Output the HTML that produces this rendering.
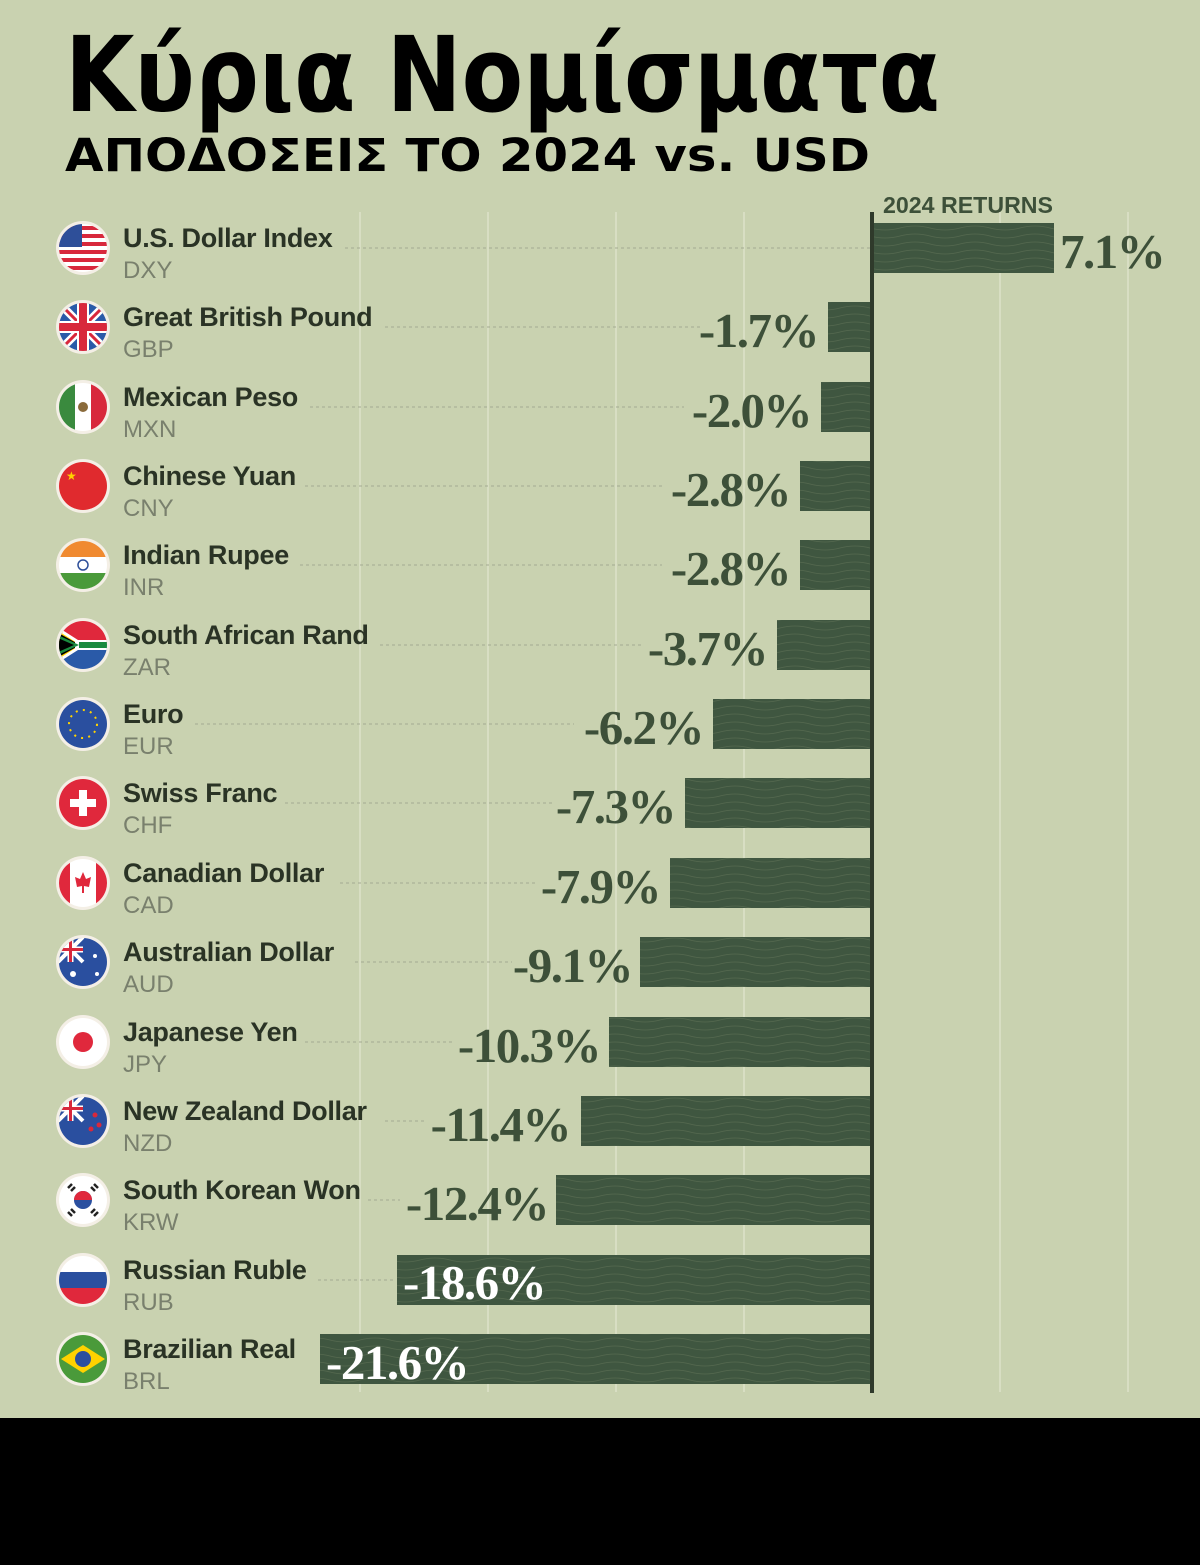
<!DOCTYPE html>
<html><head><meta charset="utf-8"><style>
body{margin:0;padding:0;background:#000}
svg{display:block}
.nm{font-family:"Liberation Sans Narrow","Liberation Sans",sans-serif;font-weight:bold;font-size:27px;fill:#2a3325;letter-spacing:-0.3px}
.cd{font-family:"Liberation Sans Narrow","Liberation Sans",sans-serif;font-size:24px;fill:#79806d}
.v{font-family:"Liberation Serif",serif;font-weight:bold;font-size:49px;fill:#3d5039;letter-spacing:-1.5px}
.vw{fill:#ffffff}
.dl{stroke:#a3ab92;stroke-width:1;stroke-dasharray:3 3}
.g{stroke:#dde1c9;stroke-width:1.5}
.bar{fill:#3f5640}
</style></head><body>
<svg width="1200" height="1565" viewBox="0 0 1200 1565" xmlns="http://www.w3.org/2000/svg">
<defs>
<pattern id="wv" width="60" height="8" patternUnits="userSpaceOnUse">
<path d="M0 4 Q15 0 30 4 T60 4" fill="none" stroke="#55694f" stroke-width="0.8"/>
</pattern>
<clipPath id="cc"><circle cx="0" cy="0" r="24"/></clipPath>
</defs>
<rect width="1200" height="1418" fill="#c9d2b0"/>
<rect y="1418" width="1200" height="147" fill="#000"/>
<text x="65" y="111" font-family="DejaVu Sans Condensed,DejaVu Sans,sans-serif" font-weight="bold" font-size="104" textLength="875" lengthAdjust="spacingAndGlyphs" fill="#000">Κύρια Νομίσματα</text>
<text x="65" y="171" font-family="DejaVu Sans Condensed,DejaVu Sans,sans-serif" font-weight="bold" font-size="45" textLength="805" lengthAdjust="spacingAndGlyphs" fill="#000">ΑΠΟΔΟΣΕΙΣ ΤΟ 2024 vs. USD</text>
<text x="883" y="213" font-family="Liberation Sans Narrow,Liberation Sans,sans-serif" font-weight="bold" font-size="23" fill="#3d5039" textLength="170" lengthAdjust="spacingAndGlyphs">2024 RETURNS</text>
<g>
<line class="g" x1="360" y1="212" x2="360" y2="1392"/><line class="g" x1="488" y1="212" x2="488" y2="1392"/>
<line class="g" x1="616" y1="212" x2="616" y2="1392"/><line class="g" x1="744" y1="212" x2="744" y2="1392"/>
<line class="g" x1="1000" y1="212" x2="1000" y2="1392"/><line class="g" x1="1128" y1="212" x2="1128" y2="1392"/>
</g>
<line class="dl" x1="345" y1="248" x2="870" y2="248"/>
<line class="dl" x1="385" y1="327" x2="700" y2="327"/>
<line class="dl" x1="310" y1="407" x2="684" y2="407"/>
<line class="dl" x1="305" y1="486" x2="662" y2="486"/>
<line class="dl" x1="300" y1="565" x2="662" y2="565"/>
<line class="dl" x1="380" y1="645" x2="644" y2="645"/>
<line class="dl" x1="195" y1="724" x2="574" y2="724"/>
<line class="dl" x1="285" y1="803" x2="555" y2="803"/>
<line class="dl" x1="340" y1="883" x2="537" y2="883"/>
<line class="dl" x1="355" y1="962" x2="512" y2="962"/>
<line class="dl" x1="305" y1="1042" x2="454" y2="1042"/>
<line class="dl" x1="385" y1="1121" x2="425" y2="1121"/>
<line class="dl" x1="368" y1="1200" x2="400" y2="1200"/>
<line class="dl" x1="318" y1="1280" x2="396" y2="1280"/>
<g>
<rect class="bar" x="874" y="223" width="180" height="50"/><rect fill="url(#wv)" x="874" y="223" width="180" height="50"/>
<rect class="bar" x="828" y="302" width="44" height="50"/><rect fill="url(#wv)" x="828" y="302" width="44" height="50"/>
<rect class="bar" x="821" y="382" width="51" height="50"/><rect fill="url(#wv)" x="821" y="382" width="51" height="50"/>
<rect class="bar" x="800" y="461" width="72" height="50"/><rect fill="url(#wv)" x="800" y="461" width="72" height="50"/>
<rect class="bar" x="800" y="540" width="72" height="50"/><rect fill="url(#wv)" x="800" y="540" width="72" height="50"/>
<rect class="bar" x="777" y="620" width="95" height="50"/><rect fill="url(#wv)" x="777" y="620" width="95" height="50"/>
<rect class="bar" x="713" y="699" width="159" height="50"/><rect fill="url(#wv)" x="713" y="699" width="159" height="50"/>
<rect class="bar" x="685" y="778" width="187" height="50"/><rect fill="url(#wv)" x="685" y="778" width="187" height="50"/>
<rect class="bar" x="670" y="858" width="202" height="50"/><rect fill="url(#wv)" x="670" y="858" width="202" height="50"/>
<rect class="bar" x="640" y="937" width="232" height="50"/><rect fill="url(#wv)" x="640" y="937" width="232" height="50"/>
<rect class="bar" x="609" y="1017" width="263" height="50"/><rect fill="url(#wv)" x="609" y="1017" width="263" height="50"/>
<rect class="bar" x="581" y="1096" width="291" height="50"/><rect fill="url(#wv)" x="581" y="1096" width="291" height="50"/>
<rect class="bar" x="556" y="1175" width="316" height="50"/><rect fill="url(#wv)" x="556" y="1175" width="316" height="50"/>
<rect class="bar" x="397" y="1255" width="475" height="50"/><rect fill="url(#wv)" x="397" y="1255" width="475" height="50"/>
<rect class="bar" x="320" y="1334" width="552" height="50"/><rect fill="url(#wv)" x="320" y="1334" width="552" height="50"/>
</g>
<rect x="870" y="212" width="4" height="1181" fill="#2f3a2b"/>
<text class="v" x="1060" y="268">7.1%</text>
<text class="v" x="818" y="347" text-anchor="end">-1.7%</text>
<text class="v" x="811" y="427" text-anchor="end">-2.0%</text>
<text class="v" x="790" y="506" text-anchor="end">-2.8%</text>
<text class="v" x="790" y="585" text-anchor="end">-2.8%</text>
<text class="v" x="767" y="665" text-anchor="end">-3.7%</text>
<text class="v" x="703" y="744" text-anchor="end">-6.2%</text>
<text class="v" x="675" y="823" text-anchor="end">-7.3%</text>
<text class="v" x="660" y="903" text-anchor="end">-7.9%</text>
<text class="v" x="632" y="982" text-anchor="end">-9.1%</text>
<text class="v" x="600" y="1062" text-anchor="end">-10.3%</text>
<text class="v" x="570" y="1141" text-anchor="end">-11.4%</text>
<text class="v" x="548" y="1220" text-anchor="end">-12.4%</text>
<text class="v vw" x="403" y="1299">-18.6%</text>
<text class="v vw" x="326" y="1379">-21.6%</text>
<g>
<text class="nm" x="123" y="247">U.S. Dollar Index</text><text class="cd" x="123" y="278">DXY</text>
<text class="nm" x="123" y="326">Great British Pound</text><text class="cd" x="123" y="357">GBP</text>
<text class="nm" x="123" y="406">Mexican Peso</text><text class="cd" x="123" y="437">MXN</text>
<text class="nm" x="123" y="485">Chinese Yuan</text><text class="cd" x="123" y="516">CNY</text>
<text class="nm" x="123" y="564">Indian Rupee</text><text class="cd" x="123" y="595">INR</text>
<text class="nm" x="123" y="644">South African Rand</text><text class="cd" x="123" y="675">ZAR</text>
<text class="nm" x="123" y="723">Euro</text><text class="cd" x="123" y="754">EUR</text>
<text class="nm" x="123" y="802">Swiss Franc</text><text class="cd" x="123" y="833">CHF</text>
<text class="nm" x="123" y="882">Canadian Dollar</text><text class="cd" x="123" y="913">CAD</text>
<text class="nm" x="123" y="961">Australian Dollar</text><text class="cd" x="123" y="992">AUD</text>
<text class="nm" x="123" y="1041">Japanese Yen</text><text class="cd" x="123" y="1072">JPY</text>
<text class="nm" x="123" y="1120">New Zealand Dollar</text><text class="cd" x="123" y="1151">NZD</text>
<text class="nm" x="123" y="1199">South Korean Won</text><text class="cd" x="123" y="1230">KRW</text>
<text class="nm" x="123" y="1279">Russian Ruble</text><text class="cd" x="123" y="1310">RUB</text>
<text class="nm" x="123" y="1358">Brazilian Real</text><text class="cd" x="123" y="1389">BRL</text>
</g>
<g transform="translate(83,248)"><circle r="27" fill="#f4efe6"/><g clip-path="url(#cc)"><rect x="-25" y="-25" width="50" height="50" fill="#fff"/><rect x="-25" y="-22" width="50" height="4" fill="#d8283c"/><rect x="-25" y="-14" width="50" height="4" fill="#d8283c"/><rect x="-25" y="-6" width="50" height="4" fill="#d8283c"/><rect x="-25" y="2" width="50" height="4" fill="#d8283c"/><rect x="-25" y="10" width="50" height="4" fill="#d8283c"/><rect x="-25" y="18" width="50" height="4" fill="#d8283c"/><rect x="-25" y="-25" width="24" height="24" fill="#2e4f99"/></g></g>
<g transform="translate(83,327)"><circle r="27" fill="#f4efe6"/><g clip-path="url(#cc)"><rect x="-25" y="-25" width="50" height="50" fill="#2a5aa8"/><path d="M-25 -25L25 25M25 -25L-25 25" stroke="#fff" stroke-width="8"/><path d="M-25 -25L25 25M25 -25L-25 25" stroke="#d8283c" stroke-width="3"/><rect x="-25" y="-6" width="50" height="12" fill="#fff"/><rect x="-6" y="-25" width="12" height="50" fill="#fff"/><rect x="-25" y="-4" width="50" height="8" fill="#d8283c"/><rect x="-4" y="-25" width="8" height="50" fill="#d8283c"/></g></g>
<g transform="translate(83,407)"><circle r="27" fill="#f4efe6"/><g clip-path="url(#cc)"><rect x="-25" y="-25" width="17" height="50" fill="#3a8a3e"/><rect x="-8" y="-25" width="16" height="50" fill="#fff"/><rect x="8" y="-25" width="17" height="50" fill="#d8283c"/><circle r="5" fill="#8a6a3a"/></g></g>
<g transform="translate(83,486)"><circle r="27" fill="#f4efe6"/><g clip-path="url(#cc)"><rect x="-25" y="-25" width="50" height="50" fill="#e02a2e"/><text x="-17" y="-6" font-size="12" fill="#ffd200">★</text></g></g>
<g transform="translate(83,565)"><circle r="27" fill="#f4efe6"/><g clip-path="url(#cc)"><rect x="-25" y="-25" width="50" height="17" fill="#f08a30"/><rect x="-25" y="-8" width="50" height="16" fill="#fff"/><rect x="-25" y="8" width="50" height="17" fill="#4a9a3a"/><circle r="5" fill="none" stroke="#2e4f99" stroke-width="1.5"/></g></g>
<g transform="translate(83,645)"><circle r="27" fill="#f4efe6"/><g clip-path="url(#cc)"><rect x="-25" y="-25" width="50" height="25" fill="#e0283c"/><rect x="-25" y="0" width="50" height="25" fill="#2a5aa8"/><path d="M-25 -14L0 0L-25 14Z" fill="#000" stroke="#ffd200" stroke-width="3"/><path d="M-8 0H25" stroke="#fff" stroke-width="10"/><path d="M-25 -16L0 0L-25 16" fill="none" stroke="#fff" stroke-width="3"/><path d="M-4 0H25" stroke="#1a8a3e" stroke-width="6"/><path d="M-25 -10L-4 0L-25 10Z" fill="#1a8a3e"/><path d="M-25 -7L-9 0L-25 7Z" fill="#000"/></g></g>
<g transform="translate(83,724)"><circle r="27" fill="#f4efe6"/><circle r="24" fill="#2a4f9f"/><circle r="14" fill="none" stroke="#ffd200" stroke-width="2" stroke-dasharray="2 5.3"/></g>
<g transform="translate(83,803)"><circle r="27" fill="#f4efe6"/><circle r="24" fill="#e0283c"/><rect x="-4" y="-13" width="8" height="26" fill="#fff"/><rect x="-13" y="-4" width="26" height="8" fill="#fff"/></g>
<g transform="translate(83,883)"><circle r="27" fill="#f4efe6"/><g clip-path="url(#cc)"><rect x="-25" y="-25" width="50" height="50" fill="#fff"/><rect x="-25" y="-25" width="12" height="50" fill="#e0283c"/><rect x="13" y="-25" width="12" height="50" fill="#e0283c"/><path d="M0 -11L3 -4L8 -6L6 4L1 3V10H-1V3L-6 4L-8 -6L-3 -4Z" fill="#e0283c"/></g></g>
<g transform="translate(83,962)"><circle r="27" fill="#f4efe6"/><g clip-path="url(#cc)"><rect x="-25" y="-25" width="50" height="50" fill="#2a4f9f"/><path d="M-25 -25L0 0M0 -25L-25 0" stroke="#fff" stroke-width="4"/><path d="M-25 -12.5H0M-12.5 -25V0" stroke="#fff" stroke-width="6"/><path d="M-25 -12.5H0M-12.5 -25V0" stroke="#d8283c" stroke-width="3"/><circle cx="-10" cy="12" r="3" fill="#fff"/><circle cx="12" cy="-6" r="2" fill="#fff"/><circle cx="14" cy="12" r="2" fill="#fff"/></g></g>
<g transform="translate(83,1042)"><circle r="27" fill="#f4efe6"/><circle r="24" fill="#fff"/><circle r="10" fill="#e0283c"/></g>
<g transform="translate(83,1121)"><circle r="27" fill="#f4efe6"/><g clip-path="url(#cc)"><rect x="-25" y="-25" width="50" height="50" fill="#2a4f9f"/><path d="M-25 -25L0 0M0 -25L-25 0" stroke="#fff" stroke-width="4"/><path d="M-25 -12.5H0M-12.5 -25V0" stroke="#fff" stroke-width="6"/><path d="M-25 -12.5H0M-12.5 -25V0" stroke="#d8283c" stroke-width="3"/><circle cx="12" cy="-6" r="2.5" fill="#d8283c"/><circle cx="8" cy="8" r="2.5" fill="#d8283c"/><circle cx="16" cy="4" r="2.5" fill="#d8283c"/></g></g>
<g transform="translate(83,1200)"><circle r="27" fill="#f4efe6"/><circle r="24" fill="#fff"/><circle r="9" fill="#2a4f9f"/><path d="M-9 0A9 9 0 0 1 9 0Z" fill="#e0283c"/><path d="M-15 -12L-11 -16M-12 -9L-8 -13M15 -12L11 -16M12 -9L8 -13M-15 12L-11 16M-12 9L-8 13M15 12L11 16M12 9L8 13" stroke="#222" stroke-width="2.5"/></g>
<g transform="translate(83,1280)"><circle r="27" fill="#f4efe6"/><g clip-path="url(#cc)"><rect x="-25" y="-25" width="50" height="17" fill="#fff"/><rect x="-25" y="-8" width="50" height="16" fill="#2a4f9f"/><rect x="-25" y="8" width="50" height="17" fill="#e0283c"/></g></g>
<g transform="translate(83,1359)"><circle r="27" fill="#f4efe6"/><circle r="24" fill="#4a9a3a"/><path d="M-22 0L0 -14L22 0L0 14Z" fill="#ffd200"/><circle r="8" fill="#2a4f9f"/></g>
</svg>
</body></html>
